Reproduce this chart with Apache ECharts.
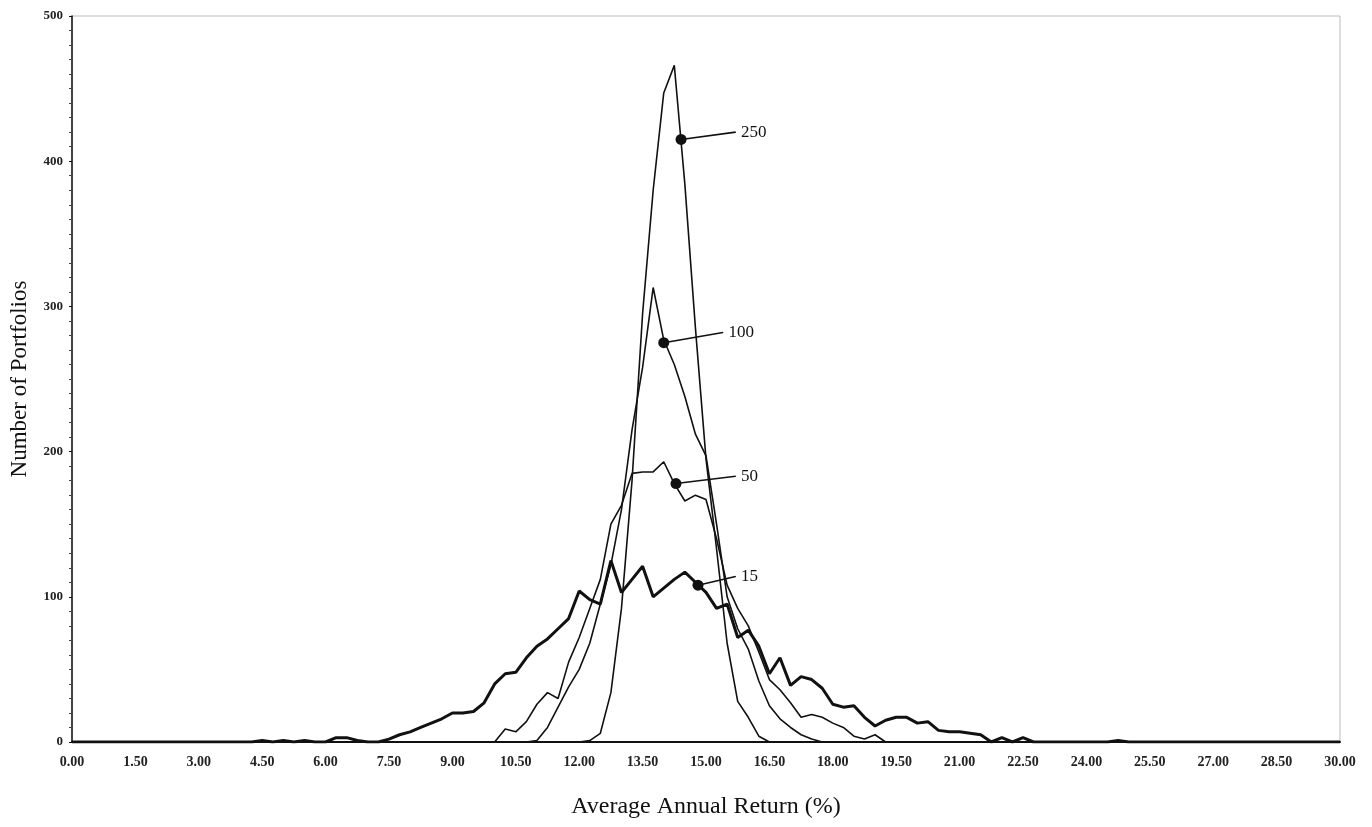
<!DOCTYPE html>
<html>
<head>
<meta charset="utf-8">
<script src="https://cdn.jsdelivr.net/npm/echarts@6/dist/echarts.min.js"></script>
<style>
html,body{margin:0;padding:0;background:#fff;}
#chart{width:1372px;height:827px;}
</style>
</head>
<body>
<div id="chart"></div>
<script>
// x values: average annual return (%), step 0.25 from 0 to 30
const returns = [
0,0.25,0.5,0.75,1,1.25,1.5,1.75,2,2.25,
2.5,2.75,3,3.25,3.5,3.75,4,4.25,4.5,4.75,
5,5.25,5.5,5.75,6,6.25,6.5,6.75,7,7.25,
7.5,7.75,8,8.25,8.5,8.75,9,9.25,9.5,9.75,
10,10.25,10.5,10.75,11,11.25,11.5,11.75,12,12.25,
12.5,12.75,13,13.25,13.5,13.75,14,14.25,14.5,14.75,
15,15.25,15.5,15.75,16,16.25,16.5,16.75,17,17.25,
17.5,17.75,18,18.25,18.5,18.75,19,19.25,19.5,19.75,
20,20.25,20.5,20.75,21,21.25,21.5,21.75,22,22.25,
22.5,22.75,23,23.25,23.5,23.75,24,24.25,24.5,24.75,
25,25.25,25.5,25.75,26,26.25,26.5,26.75,27,27.25,
27.5,27.75,28,28.25,28.5,28.75,29,29.25,29.5,29.75,
30];

const port15 = [
0,0,0,0,0,0,0,0,0,0,
0,0,0,0,0,0,0,0,1,0,
1,0,1,0,0,3,3,1,0,0,
2,5,7,10,13,16,20,20,21,27,
40,47,48,58,66,71,78,85,104,98,
95,125,103,112,121,100,106,112,117,110,
103,92,95,72,77,66,47,58,39,45,
43,37,26,24,25,17,11,15,17,17,
13,14,8,7,7,6,5,0,3,0,
3,0,0,0,0,0,0,0,0,1,
0,0,0,0,0,0,0,0,0,0,
0,0,0,0,0,0,0,0,0,0,
0];

const port50 = [
0,0,0,0,0,0,0,0,0,0,
0,0,0,0,0,0,0,0,0,0,
0,0,0,0,0,0,0,0,0,0,
0,0,0,0,0,0,0,0,0,0,
0,9,7,14,26,34,30,55,72,92,
112,150,163,185,186,186,193,178,166,170,
167,140,108,92,80,62,43,36,27,17,
19,17,13,10,4,2,5,0,0,0,
0,0,0,0,0,0,0,0,0,0,
0,0,0,0,0,0,0,0,0,0,
0,0,0,0,0,0,0,0,0,0,
0,0,0,0,0,0,0,0,0,0,
0];

const port100 = [
0,0,0,0,0,0,0,0,0,0,
0,0,0,0,0,0,0,0,0,0,
0,0,0,0,0,0,0,0,0,0,
0,0,0,0,0,0,0,0,0,0,
0,0,0,0,1,10,24,38,50,68,
95,122,160,215,258,313,277,260,238,212,
197,150,100,78,64,42,25,16,10,5,
2,0,0,0,0,0,0,0,0,0,
0,0,0,0,0,0,0,0,0,0,
0,0,0,0,0,0,0,0,0,0,
0,0,0,0,0,0,0,0,0,0,
0,0,0,0,0,0,0,0,0,0,
0];

const port250 = [
0,0,0,0,0,0,0,0,0,0,
0,0,0,0,0,0,0,0,0,0,
0,0,0,0,0,0,0,0,0,0,
0,0,0,0,0,0,0,0,0,0,
0,0,0,0,0,0,0,0,0,1,
6,34,92,180,295,380,447,466,384,285,
195,133,68,28,17,4,0,0,0,0,
0,0,0,0,0,0,0,0,0,0,
0,0,0,0,0,0,0,0,0,0,
0,0,0,0,0,0,0,0,0,0,
0,0,0,0,0,0,0,0,0,0,
0,0,0,0,0,0,0,0,0,0,
0];

// curve labels (portfolio sizes) with marker and label anchor points
const labelNames = ['250','100','50','15'];
const markerX = [14.41, 14.0, 14.29, 14.81];
const markerY = [415, 275, 178, 108];
const labelX  = [15.7, 15.4, 15.7, 15.7];
const labelY  = [420, 282, 183, 114];

const yTicks = [0,100,200,300,400,500];

const SERIF = '"Liberation Serif", "DejaVu Serif", serif';
const INK = '#111';

function pairs(ys){ return returns.map((x,i)=>[x, ys[i]]); }

const curves = [
  {name:'15', data: port15, width: 3},
  {name:'50', data: port50, width: 1.6},
  {name:'100', data: port100, width: 1.6},
  {name:'250', data: port250, width: 1.6}
];

const series = curves.map(c => ({
  type:'line', name:c.name, data: pairs(c.data), symbol:'none',
  lineStyle:{color:INK, width:c.width}, z: 3, animation:false
}));

labelNames.forEach((n,i)=>{
  series.push({
    type:'line', name:'lbl'+n, animation:false, z:5,
    lineStyle:{color:INK, width:1.6},
    itemStyle:{color:INK},
    data:[
      {value:[markerX[i], markerY[i]], symbol:'circle', symbolSize:11},
      {value:[labelX[i], labelY[i]], symbol:'circle', symbolSize:1,
        label:{show:true, position:'right', distance:5, formatter:n,
          fontFamily:SERIF, fontSize:17, color:INK}}
    ]
  });
});

const chart = echarts.init(document.getElementById('chart'), null, {renderer:'canvas'});
chart.setOption({
  backgroundColor:'#fff',
  animation:false,
  grid:{left:72, right:32, top:16, bottom:85, show:true, borderColor:'#bbb', borderWidth:1,
        containLabel:false, outerBoundsMode:'none'},
  xAxis:{
    type:'value', min:0, max:30, interval:1.5,
    name:'Average Annual Return (%)', nameLocation:'middle', nameGap:53,
    nameTextStyle:{fontFamily:SERIF, fontSize:24, color:INK},
    axisLine:{lineStyle:{color:INK, width:2}},
    axisTick:{show:false},
    splitLine:{show:false},
    axisLabel:{fontFamily:SERIF, fontWeight:'bold', fontSize:14, color:'#222', margin:13,
      formatter:v=>v.toFixed(2)}
  },
  yAxis:{
    type:'value', min:yTicks[0], max:yTicks[yTicks.length-1], interval:100,
    name:'Number of Portfolios', nameLocation:'middle', nameGap:41, nameRotate:90,
    nameTextStyle:{fontFamily:SERIF, fontSize:23, color:INK},
    axisLine:{show:true, lineStyle:{color:INK, width:1.5}},
    axisTick:{show:true, length:3, lineStyle:{color:INK}},
    minorTick:{show:true, splitNumber:10, length:3, lineStyle:{color:'#444'}},
    splitLine:{show:false},
    axisLabel:{fontFamily:SERIF, fontWeight:'bold', fontSize:13, color:'#222', margin:9}
  },
  series: series
});
</script>
</body>
</html>
